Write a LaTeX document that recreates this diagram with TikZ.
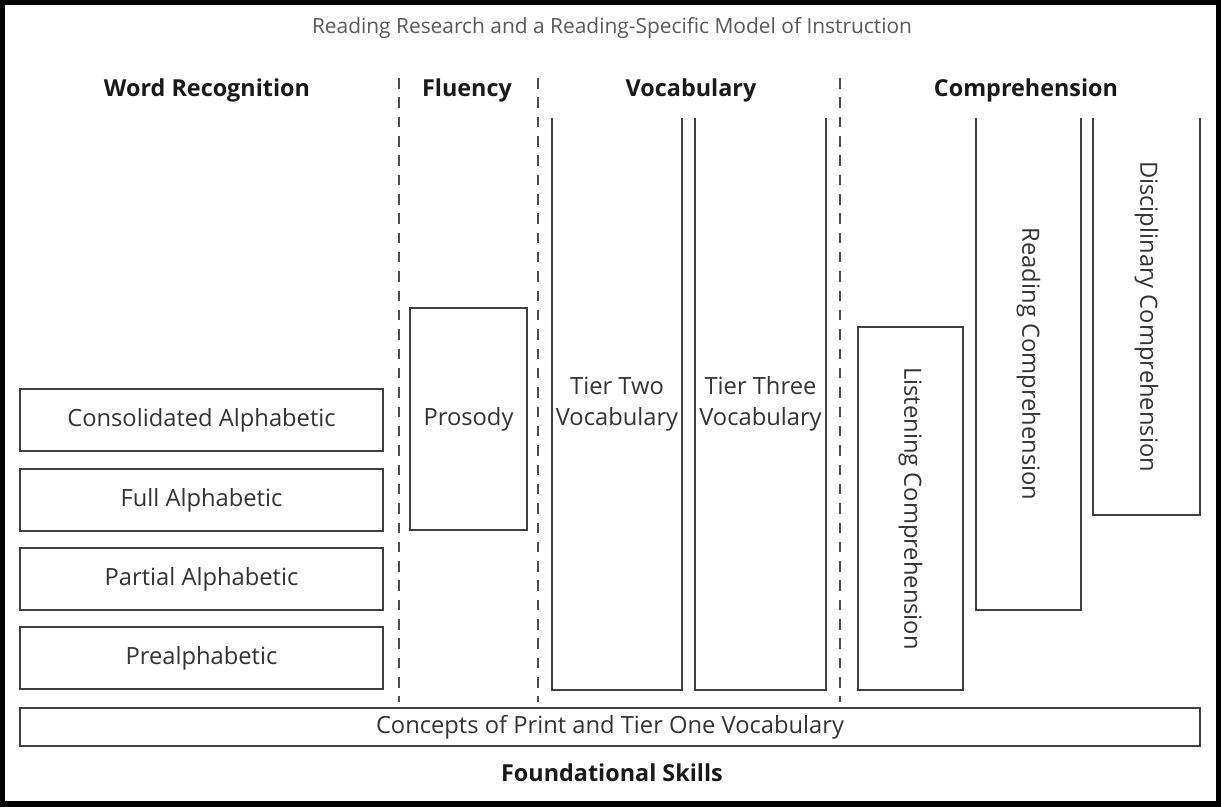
\documentclass[tikz,border=0pt]{standalone}
\usepackage{fontspec}
\setmainfont{Open Sans}

\begin{document}
\begin{tikzpicture}[x=0.02cm,y=-0.02cm,
    stage/.style={draw=black!75, line width=1pt, inner sep=0pt, align=center, text=black!80, font=\fontsize{13.5}{17.5}\selectfont},
    column/.style={inner sep=0pt},
    label/.style={text=black!80, align=center, font=\fontsize{13.5}{17.5}\selectfont},
    header/.style={text=black!90, font=\bfseries\fontsize{13.3}{16}\selectfont},
    divider/.style={black!70, line width=1.2pt, dash pattern=on 6pt off 5pt}]
    \useasboundingbox (0,0) rectangle (1221,808);
    \draw[line width=3pt] (2.5,2.5) rectangle (1218.5,804);

    \node[text=black!65, font=\fontsize{11.9}{14}\selectfont] (T) at (612,28) {Reading Research and a Reading-Specific Model of Instruction};

    \node[header] (WR) at (207,90) {Word Recognition};
    \node[header] (FL) at (467,90) {Fluency};
    \node[header] (VO) at (691,90) {Vocabulary};
    \node[header] (CO) at (1026,90) {Comprehension};

    \draw[divider] (399,78) -- (399,702);
    \draw[divider] (538,78) -- (538,702);
    \draw[divider] (840,78) -- (840,702);

    % word recognition
    \node[stage, minimum width=7.26cm, minimum height=1.24cm] (CA) at (201.5,420) {Consolidated Alphabetic};
    \node[stage, minimum width=7.26cm, minimum height=1.24cm] (FA) at (201.5,500) {Full Alphabetic};
    \node[stage, minimum width=7.26cm, minimum height=1.24cm] (PA) at (201.5,579) {Partial Alphabetic};
    \node[stage, minimum width=7.26cm, minimum height=1.24cm] (PR) at (201.5,658) {Prealphabetic};

    % fluency
    \node[stage, minimum width=2.34cm, minimum height=4.44cm] (PS) at (468.5,419) {Prosody};

    % vocabulary
    \node[column, minimum width=2.6cm, minimum height=11.44cm] (T2) at (617,404) {};
    \node[column, minimum width=2.62cm, minimum height=11.44cm] (T3) at (760.5,404) {};
    \draw[stage] (T2.north west) -- (T2.south west) -- (T2.south east) -- (T2.north east);
    \draw[stage] (T3.north west) -- (T3.south west) -- (T3.south east) -- (T3.north east);
    \node[label] (T2t) at (T2.center) {Tier Two\\Vocabulary};
    \node[label] (T3t) at (T3.center) {Tier Three\\Vocabulary};

    % comprehension
    \node[stage, minimum width=2.1cm, minimum height=7.26cm] (LC) at (910.5,508.5) {};
    \node[column, minimum width=2.1cm, minimum height=9.84cm] (RC) at (1028.5,364) {};
    \node[column, minimum width=2.14cm, minimum height=7.94cm] (DC) at (1146.5,316.5) {};
    \draw[stage] (RC.north west) -- (RC.south west) -- (RC.south east) -- (RC.north east);
    \draw[stage] (DC.north west) -- (DC.south west) -- (DC.south east) -- (DC.north east);
    \node[label, rotate=-90] (LCt) at (LC.center) {Listening Comprehension};
    \node[label, rotate=-90] (RCt) at (RC.center) {Reading Comprehension};
    \node[label, rotate=-90] (DCt) at (DC.center) {Disciplinary Comprehension};

    % foundational skills
    \node[stage, minimum width=23.6cm, minimum height=0.76cm] (CP) at (610,727) {Concepts of Print and Tier One Vocabulary};
    \node[header] (FS) at (612,773) {Foundational Skills};
\end{tikzpicture}
\end{document}
